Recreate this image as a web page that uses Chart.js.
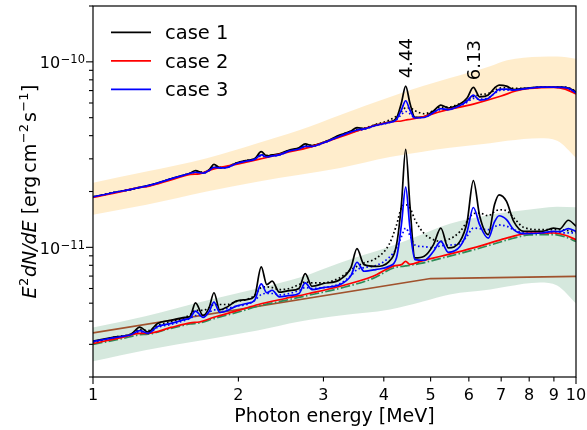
<!DOCTYPE html>
<html><head><meta charset="utf-8">
<script src="https://cdn.jsdelivr.net/npm/chart.js@4.4.1/dist/chart.umd.min.js"></script>
<style>html,body{margin:0;padding:0;background:#fff}#wrap{width:587px;height:430px}</style>
</head><body><div id="wrap"><canvas id="c" width="587" height="430"></canvas></div>
<script>
// All flux values below are in units of 1e-12 erg cm^-2 s^-1
const UNIT = 1e-12;

const energyFine = [1.00,1.10,1.20,1.25,1.30,1.36,1.45,1.55,1.59,1.63,1.69,1.74,1.78,1.83,1.90,1.98,2.08,2.16,2.23,2.29,2.35,2.43,2.55,2.67,2.75,2.84,3.00,3.25,3.42,3.52,3.64,3.85,4.10,4.25,4.35,4.44,4.53,4.64,4.85,5.07,5.25,5.44,5.75,5.95,6.13,6.32,6.58,6.78,6.93,7.18,7.43,7.80,8.50,8.98,9.25,9.64,10.0];

const case1Upper = [18.7,19.7,20.55,21.07,21.5,22.2,23.4,24.6,25.1,25.9,25.2,26.2,28.0,26.9,27.2,28.5,29.4,30.0,32.8,31.1,31.5,31.9,33.5,34.4,36.1,35.4,36.8,40.4,42.4,44.2,43.7,45.7,47.4,49.8,60.0,74.0,60.0,50.2,50.6,54.3,58.5,56.4,59.2,63.8,72.9,64.8,66.2,72.2,74.9,74.0,70.9,71.9,73.1,73.1,73.1,72.2,69.0];
const case1UpperAlt = [18.7,19.7,20.55,21.1,21.5,22.2,23.4,24.6,25.1,25.6,25.4,26.1,27.2,27.0,27.3,28.5,29.4,30.0,31.6,31.3,31.4,31.8,33.3,34.2,35.4,35.5,36.8,40.2,42.3,43.3,43.8,46.0,48.4,51.0,54.0,56.5,56.5,54.5,52.5,54.5,57.0,57.0,59.5,62.0,65.0,66.5,67.5,70.0,72.0,72.5,72.0,72.0,73.1,73.3,73.2,72.5,69.5];
const case3Upper = [18.7,19.7,20.55,21.07,21.5,22.2,23.4,24.6,25.1,25.4,25.1,26.0,27.0,26.8,27.0,28.3,29.2,29.8,31.5,30.7,31.1,31.5,33.1,33.9,35.0,35.0,36.6,39.85,41.9,42.9,43.5,45.4,47.1,48.9,55.0,61.7,55.0,49.8,50.1,53.3,56.0,55.3,58.1,61.5,66.2,62.2,63.4,67.9,71.1,71.3,70.4,71.5,73.1,73.1,72.9,72.0,67.9];
const case3UpperAlt = [18.7,19.7,20.5,21.0,21.4,22.1,23.3,24.5,25.0,25.3,25.1,25.9,26.7,26.7,27.0,28.2,29.1,29.7,31.0,30.6,31.0,31.4,33.0,33.8,34.8,34.9,36.5,39.7,41.7,42.5,43.2,45.3,47.0,48.8,52.0,54.0,52.5,50.0,50.3,53.0,55.3,55.3,57.8,60.5,63.5,63.0,64.0,67.5,70.0,70.5,70.3,71.5,73.0,73.0,72.8,71.8,68.0];

const case1Lower = [3.12,3.27,3.41,3.71,3.49,3.89,4.04,4.19,4.26,5.02,4.29,4.74,5.69,4.60,4.79,5.13,5.23,5.45,7.84,6.30,6.57,5.73,5.85,6.00,7.22,6.17,6.38,6.71,7.78,9.84,8.07,7.90,8.38,10.34,16.97,33.8,16.97,8.77,8.95,10.34,12.7,9.93,10.77,13.7,22.9,14.7,11.7,16.97,19.2,17.7,13.8,12.2,12.2,12.7,12.56,14.0,13.0];
const case1LowerAlt = [3.09,3.27,3.41,3.61,3.56,3.79,3.98,4.19,4.34,4.57,4.57,4.74,4.92,4.92,4.92,5.11,5.23,5.50,6.07,6.12,6.07,5.92,6.00,6.30,6.50,6.44,6.44,6.88,7.59,7.90,8.24,8.70,10.34,13.2,16.35,16.97,16.35,14.1,11.85,11.0,10.77,11.0,12.15,13.8,15.2,15.3,14.8,15.55,15.95,15.76,14.44,12.8,12.45,12.45,12.45,12.3,12.15];
const case3Lower = [3.11,3.25,3.39,3.56,3.44,3.74,3.89,4.09,4.17,4.53,4.19,4.51,5.06,4.46,4.57,4.82,4.98,5.17,6.36,5.69,5.87,5.41,5.50,5.64,6.44,5.92,6.07,6.30,7.04,8.31,7.43,7.59,7.90,8.80,13.2,21.1,12.8,8.59,8.52,9.52,10.77,9.40,10.1,12.15,16.4,13.2,11.2,13.7,14.8,14.1,12.45,11.85,11.95,12.2,12.15,12.6,12.2];
const case3LowerAlt = [3.06,3.23,3.37,3.48,3.46,3.70,3.84,4.04,4.14,4.29,4.29,4.46,4.60,4.60,4.68,4.82,4.92,5.17,5.57,5.64,5.64,5.54,5.64,5.85,6.07,6.00,6.07,6.38,7.04,7.59,7.78,7.97,8.80,9.9,11.4,12.7,11.6,10.3,10.09,9.93,10.2,10.28,10.47,11.5,12.7,12.6,12.45,12.9,13.2,13.0,12.45,11.98,11.95,11.98,11.98,11.98,11.95];

const energySmooth = [1.00,1.15,1.25,1.30,1.45,1.59,1.66,1.78,2.00,2.20,2.50,2.80,3.25,3.80,4.20,4.35,4.44,4.53,4.80,5.25,6.13,7.00,7.50,8.00,9.00,9.50,10.0];
const case2Upper = [18.6,20.05,21.07,21.3,23.1,24.7,24.9,26.5,28.2,29.8,32.3,34.6,39.4,45.1,47.7,48.0,48.6,48.9,50.4,54.0,59.2,65.4,69.6,71.8,72.9,71.3,67.0];
const case2Lower = [3.03,3.27,3.44,3.44,3.70,3.92,3.96,4.20,4.57,4.92,5.30,5.64,6.17,6.98,7.95,8.07,8.40,8.10,8.45,8.95,9.93,11.0,11.56,11.92,11.95,11.62,11.0];
const modelLower = [3.00,3.22,3.38,3.40,3.66,3.86,3.91,4.13,4.48,4.82,5.18,5.52,6.02,6.80,7.76,7.88,7.95,8.00,8.22,8.72,9.68,10.72,11.28,11.66,11.72,11.38,10.75];

const energyBrown = [1, 5, 10];
const brownLine = [3.46, 6.79, 6.98];

const energyBand = [1.00,1.29,1.72,2.19,2.68,3.25,4.12,4.82,5.48,6.64,7.20,8.43,9.14,10.0];
const orangeUpper = [22.3,25.6,30.2,36.4,42.9,51.7,64.6,74.0,81.7,94.8,102,106.4,106.7,104];
const orangeLower = [15.0,16.97,20.0,22.6,24.6,26.8,30.7,32.8,34.4,36.4,37.5,38.7,37.5,30.4];
const greenUpper = [3.70,4.27,5.17,6.0,6.88,8.27,10.1,11.8,13.4,15.0,15.46,16.25,16.55,16.45];
const greenLower = [2.43,2.80,3.19,3.56,3.98,4.29,4.62,5.10,5.57,5.92,6.15,6.46,6.22,4.98];

const xTicks = [1,2,3,4,5,6,7,8,9,10];
const xMajor = [1,10];
const yMajorTicks = [1e-11, 1e-10];
const yTickLabels = [{base:'10', exp:'\u221211'}, {base:'10', exp:'\u221210'}];
const xTitle = 'Photon energy [MeV]';
const legendLabels = ['case 1','case 2','case 3'];
const legendColors = ['#000000','#ff0000','#0000ff'];
const lineLabels = ['4.44','6.13'];
const lineEnergies = [4.44, 6.13];
const labelLevels = [81.7, 79.6];

const FONT = '"DejaVu Sans", "Liberation Sans", sans-serif';
const pts = (xs, ys) => xs.map((x, i) => ({x: x, y: ys[i] * UNIT}));
const line = (label, xs, ys, color, order, extra) => Object.assign({
  label, data: pts(xs, ys), borderColor: color, backgroundColor: color, borderWidth: 1.7,
  pointRadius: 0, fill: false, cubicInterpolationMode: 'monotone', tension: 0.4, order
}, extra || {});
const DOT = {borderDash: [1.6, 2.5], borderCapStyle: 'butt'};
const NOLINE = {borderColor: 'rgba(0,0,0,0)', borderWidth: 0};

const datasets = [
  line('orange lo', energyBand, orangeLower, 'rgba(0,0,0,0)', 30, NOLINE),
  line('orange hi', energyBand, orangeUpper, 'rgba(0,0,0,0)', 29, Object.assign({}, NOLINE, {fill: '-1', backgroundColor: 'rgba(255,165,0,0.2)'})),
  line('green lo', energyBand, greenLower, 'rgba(0,0,0,0)', 28, NOLINE),
  line('green hi', energyBand, greenUpper, 'rgba(0,0,0,0)', 27, Object.assign({}, NOLINE, {fill: '-1', backgroundColor: 'rgba(46,139,87,0.2)'})),
  line('brown', energyBrown, brownLine, '#a0522d', 10, {tension: 0, cubicInterpolationMode: 'default'}),
  line('model', energySmooth, modelLower, '#2e8b57', 9, {borderDash: [9.6, 2.4, 1.5, 2.4]}),
  line('case 1 alt lo', energyFine, case1LowerAlt, '#000000', 8, DOT),
  line('case 1 alt hi', energyFine, case1UpperAlt, '#000000', 8, DOT),
  line('case 3 alt lo', energyFine, case3LowerAlt, '#0000ff', 7, DOT),
  line('case 3 alt hi', energyFine, case3UpperAlt, '#0000ff', 7, DOT),
  line('case 1 lo', energyFine, case1Lower, '#000000', 5),
  line('case 1 hi', energyFine, case1Upper, '#000000', 5),
  line('case 2 lo', energySmooth, case2Lower, '#ff0000', 4),
  line('case 2 hi', energySmooth, case2Upper, '#ff0000', 4),
  line('case 3 lo', energyFine, case3Lower, '#0000ff', 3),
  line('case 3 hi', energyFine, case3Upper, '#0000ff', 3)
];

function drawYTitle(ctx, cx, cy) {
  const big = '19px ' + FONT, ital = 'italic 19px ' + FONT, sup = '13px ' + FONT;
  const parts = [
    {t: 'E', f: ital, dy: 0, gap: 0.5},
    {t: '2', f: sup, dy: -8, gap: 0.5},
    {t: 'dN/dE', f: ital, dy: 0, gap: 0},
    {t: ' [erg', f: big, dy: 0, gap: 3},
    {t: 'cm', f: big, dy: 0, gap: 0.5},
    {t: '\u22122', f: sup, dy: -8, gap: 2},
    {t: 's', f: big, dy: 0, gap: 0.5},
    {t: '\u22121', f: sup, dy: -8, gap: 0.5},
    {t: ']', f: big, dy: 0, gap: 0}
  ];
  let total = 0;
  parts.forEach(p => { ctx.font = p.f; p.w = ctx.measureText(p.t).width; total += p.w + p.gap; });
  ctx.save();
  ctx.translate(cx, cy);
  ctx.rotate(-Math.PI / 2);
  ctx.fillStyle = '#000';
  ctx.textBaseline = 'alphabetic';
  ctx.textAlign = 'left';
  let xpos = -total / 2;
  parts.forEach(p => { ctx.font = p.f; ctx.fillText(p.t, xpos, p.dy); xpos += p.w + p.gap; });
  ctx.restore();
}

const decor = {
  id: 'decor',
  afterDraw(chart) {
    const {ctx, chartArea: a} = chart;
    const xs = chart.scales.x, ys = chart.scales.y;
    ctx.save();
    ctx.strokeStyle = '#000';
    ctx.fillStyle = '#000';
    ctx.lineWidth = 1.2;
    ctx.strokeRect(a.left, a.top, a.right - a.left, a.bottom - a.top);
    // x ticks
    ctx.lineWidth = 1.1;
    xTicks.forEach(v => {
      const px = xs.getPixelForValue(v);
      const len = xMajor.includes(v) ? 7 : 4.5;
      ctx.beginPath(); ctx.moveTo(px, a.bottom); ctx.lineTo(px, a.bottom + len); ctx.stroke();
    });
    // y ticks (major + minor decades)
    for (let n = -12; n <= -10; n++) {
      for (let k = 1; k <= 9; k++) {
        const v = k * Math.pow(10, n);
        if (v < ys.min * 0.999 || v > ys.max * 1.001) continue;
        const py = ys.getPixelForValue(v);
        const len = k === 1 ? 7 : 4;
        ctx.beginPath(); ctx.moveTo(a.left - len, py); ctx.lineTo(a.left, py); ctx.stroke();
      }
    }
    // y tick labels
    yMajorTicks.forEach((v, i) => {
      const py = ys.getPixelForValue(v);
      const lab = yTickLabels[i];
      ctx.textAlign = 'right'; ctx.textBaseline = 'alphabetic';
      ctx.font = '11.5px ' + FONT;
      const ew = ctx.measureText(lab.exp).width;
      const right = a.left - 8;
      ctx.fillText(lab.exp, right, py + 1.5);
      ctx.font = '16px ' + FONT;
      ctx.fillText(lab.base, right - ew - 0.5, py + 6.3);
    });
    // y axis title
    drawYTitle(ctx, 36, (a.top + a.bottom) / 2);
    // legend
    legendLabels.forEach((t, i) => {
      const ly = 32.3 + i * 28.5;
      ctx.strokeStyle = legendColors[i]; ctx.lineWidth = 1.7;
      ctx.beginPath(); ctx.moveTo(111, ly); ctx.lineTo(151, ly); ctx.stroke();
      ctx.font = '19.5px ' + FONT; ctx.textAlign = 'left'; ctx.textBaseline = 'alphabetic';
      ctx.fillStyle = '#000';
      ctx.fillText(t, 165, ly + 7);
    });
    // line annotations
    lineLabels.forEach((t, i) => {
      const px = xs.getPixelForValue(lineEnergies[i]);
      const py = ys.getPixelForValue(labelLevels[i] * UNIT);
      ctx.save();
      ctx.translate(px + 6.5, py);
      ctx.rotate(-Math.PI / 2);
      ctx.font = '18px ' + FONT; ctx.textAlign = 'left'; ctx.textBaseline = 'alphabetic';
      ctx.fillStyle = '#000';
      ctx.fillText(t, 0, 0);
      ctx.restore();
    });
    ctx.restore();
  }
};

new Chart(document.getElementById('c'), {
  type: 'line',
  data: {datasets},
  plugins: [decor],
  options: {
    responsive: false, animation: false, events: [],
    layout: {padding: {left: 0, right: 11, top: 6, bottom: 0}},
    plugins: {legend: {display: false}, tooltip: {enabled: false}},
    scales: {
      x: {
        type: 'logarithmic', min: 1, max: 10, position: 'bottom',
        grid: {display: false, drawTicks: false}, border: {display: false},
        afterBuildTicks: s => { s.ticks = xTicks.map(v => ({value: v})); },
        afterFit: s => { s.height = 53; s.paddingLeft = 0; s.paddingRight = 0; },
        ticks: {autoSkip: false, maxRotation: 0, minRotation: 0, padding: 9, color: '#000',
                font: {family: FONT, size: 16}, callback: v => String(v)},
        title: {display: true, text: xTitle, color: '#000', font: {family: FONT, size: 19}, padding: {top: 0, bottom: 2}}
      },
      y: {
        type: 'logarithmic', min: 2e-12, max: 2e-10,
        grid: {display: false, drawTicks: false}, border: {display: false},
        ticks: {display: false},
        afterFit: s => { s.width = 93; s.paddingTop = 0; s.paddingBottom = 0; }
      }
    }
  }
});
</script></body></html>
